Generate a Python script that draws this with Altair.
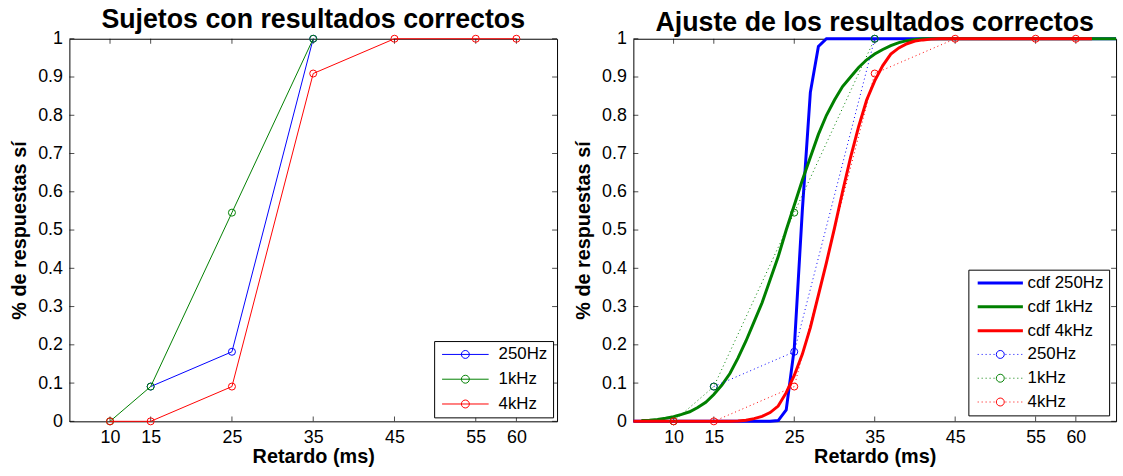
import altair as alt
import pandas as pd

# ---------------- data ----------------
retardo_ticks = [10, 15, 25, 35, 45, 55, 60]
prop_ticks = [0, 0.1, 0.2, 0.3, 0.4, 0.5, 0.6, 0.7, 0.8, 0.9, 1.0]

series_obs = ["250Hz", "1kHz", "4kHz"]
series_cdf = ["cdf 250Hz", "cdf 1kHz", "cdf 4kHz"]

x_250 = [15, 25, 35]
y_250 = [0.0909, 0.1818, 1.0]
x_1k = [10, 15, 25, 35]
y_1k = [0.0, 0.0909, 0.5455, 1.0]
x_4k = [10, 15, 25, 35, 45, 55, 60]
y_4k = [0.0, 0.0, 0.0909, 0.9091, 1.0, 1.0, 1.0]

cdf250_x = [5, 22, 23, 24, 25, 26, 27, 28, 29, 65]
cdf250_y = [0.0, 0.0, 0.002, 0.03, 0.19, 0.55, 0.86, 0.98, 1.0, 1.0]

cdf1k_x = [6, 7, 8, 9, 10, 11, 12, 13, 14, 15, 16, 17, 18, 19, 20, 21, 22, 23,
           24, 25, 26, 27, 28, 29, 30, 31, 32, 33, 34, 35, 36, 37, 38, 39, 40, 41, 65]
cdf1k_y = [0.002, 0.003, 0.005, 0.008, 0.012, 0.018, 0.025, 0.036, 0.05, 0.07,
           0.095, 0.125, 0.165, 0.21, 0.26, 0.31, 0.37, 0.43, 0.5, 0.565, 0.63,
           0.69, 0.75, 0.8, 0.84, 0.875, 0.9, 0.925, 0.945, 0.96, 0.972, 0.982,
           0.99, 0.995, 0.998, 1.0, 1.0]

cdf4k_x = [5, 17, 18, 19, 20, 21, 22, 23, 24, 25, 26, 27, 28, 29, 30, 31, 32, 33,
           34, 35, 36, 37, 38, 39, 40, 41, 42, 43, 62]
cdf4k_y = [0.0, 0.0, 0.001, 0.003, 0.007, 0.013, 0.023, 0.04, 0.075, 0.12, 0.175,
           0.245, 0.33, 0.415, 0.505, 0.6, 0.69, 0.77, 0.84, 0.89, 0.93, 0.96,
           0.976, 0.987, 0.994, 0.997, 0.999, 1.0, 1.0]

# ---------------- styling ----------------
FONT = "Liberation Sans"
BLUE, GREEN, RED = "#0000ff", "#008000", "#ff0000"
XDOM = [5, 65]
W_L, W_R, H = 492, 487, 386


def frame(field, names, xs, ys):
    rows = []
    for n, xx, yy in zip(names, xs, ys):
        for a, b in zip(xx, yy):
            rows.append({field: n, "x": a, "y": b})
    return pd.DataFrame(rows)


obs_df = frame("serie", series_obs, [x_250, x_1k, x_4k], [y_250, y_1k, y_4k])
obs_df2 = frame("curva", series_obs, [x_250, x_1k, x_4k], [y_250, y_1k, y_4k])
cdf_df = frame("curva", series_cdf, [cdf250_x, cdf1k_x, cdf4k_x], [cdf250_y, cdf1k_y, cdf4k_y])
tick_x_df = pd.DataFrame({"x": retardo_ticks})
tick_y_df = pd.DataFrame({"y": prop_ticks})


def circle(rc):
    return f"M{rc},0A{rc},{rc},0,1,1,{-rc},0A{rc},{rc},0,1,1,{rc},0"


def dotted(half, rc, step=0.8, dot=0.2):
    parts = []
    x = -half
    while x + dot <= half + 1e-9:
        if x + dot < -rc - 0.15 or x > rc + 0.15:
            parts.append(f"M{x:.2f},0H{x + dot:.2f}")
        x += step
    return "".join(parts) + circle(rc)


path_left = f"M-4.7,0H4.7{circle(0.8)}"
path_solid = "M-4.56,0H4.56"
path_dotted = dotted(4.56, 0.8)

xs = alt.Scale(domain=XDOM, nice=False, zero=False)
ys = alt.Scale(domain=[0, 1], nice=False, zero=False)

x_main = alt.Axis(values=retardo_ticks, orient="bottom", ticks=False,
                  domain=False, grid=False, labelPadding=7, title="Retardo (ms)",
                  titlePadding=1, format="d", labelOverlap=False, minExtent=0)
y_main = alt.Axis(values=prop_ticks, orient="left", ticks=False,
                  domain=False, grid=False, labelPadding=7,
                  title="% de respuestas sí", titlePadding=8, format="~g",
                  labelOverlap=False, minExtent=0)

legend_common = dict(title=None, orient="none", symbolSize=100,
                     symbolFillColor="transparent", labelFont=FONT,
                     labelFontSize=17, labelColor="black", strokeColor="black",
                     fillColor="white", cornerRadius=0, labelLimit=0)

leg_left = alt.Legend(legendX=368, legendY=305, symbolType=path_left,
                      symbolStrokeWidth=1, symbolOffset=18, labelOffset=25,
                      padding=5, rowPadding=7, **legend_common)

solid_names = "['cdf 250Hz','cdf 1kHz','cdf 4kHz']"
is_solid = f"indexof({solid_names}, datum.value) >= 0"
leg_right = alt.Legend(
    legendX=338, legendY=233,
    symbolType=alt.ExprRef(f"{is_solid} ? '{path_solid}' : '{path_dotted}'"),
    symbolStrokeWidth=alt.ExprRef(f"{is_solid} ? 3 : 1"),
    symbolOffset=18.7, labelOffset=19, padding=5, rowPadding=6,
    **legend_common)

color_left = alt.Color("serie:N", scale=alt.Scale(domain=series_obs, range=[BLUE, GREEN, RED]),
                       legend=leg_left)
color_right = alt.Color("curva:N",
                        scale=alt.Scale(domain=series_cdf + series_obs,
                                        range=[BLUE, GREEN, RED, BLUE, GREEN, RED]),
                        legend=leg_right)


def inner_ticks(width):
    tk = dict(size=5, thickness=1, color="black")
    bx = alt.Chart(tick_x_df)
    by = alt.Chart(tick_y_df)
    xe = alt.X("x:Q", scale=xs, axis=None)
    ye = alt.Y("y:Q", scale=ys, axis=None)
    return [
        bx.mark_tick(**tk).encode(x=xe, y=alt.value(H - 2.5)),
        bx.mark_tick(**tk).encode(x=xe, y=alt.value(2.5)),
        by.mark_tick(**tk).encode(y=ye, x=alt.value(2.5)),
        by.mark_tick(**tk).encode(y=ye, x=alt.value(width - 2.5)),
    ]


# ---------------- left panel ----------------
left_layers = inner_ticks(W_L)
for i, s in enumerate(series_obs):
    base = alt.Chart(obs_df).transform_filter(alt.datum.serie == s)
    ax_x = x_main if i == 0 else None
    ax_y = y_main if i == 0 else None
    left_layers.append(base.mark_line(strokeWidth=1).encode(
        x=alt.X("x:Q", scale=xs, axis=ax_x),
        y=alt.Y("y:Q", scale=ys, axis=ax_y),
        color=color_left))
    left_layers.append(base.mark_point(shape="circle", filled=False, size=50, strokeWidth=1,
                                       opacity=1).encode(
        x=alt.X("x:Q", scale=xs, axis=None),
        y=alt.Y("y:Q", scale=ys, axis=None),
        color=color_left))

left = alt.layer(*left_layers).resolve_axis(x="independent", y="independent").properties(
    width=W_L, height=H,
    title=alt.TitleParams("Sujetos con resultados correctos", baseline="alphabetic", offset=-25))

# ---------------- right panel ----------------
right_layers = inner_ticks(W_R)
for i, s in enumerate(series_cdf):
    base = alt.Chart(cdf_df).transform_filter(alt.datum.curva == s)
    ax_x = x_main if i == 0 else None
    ax_y = y_main if i == 0 else None
    right_layers.append(base.mark_line(strokeWidth=3).encode(
        x=alt.X("x:Q", scale=xs, axis=ax_x),
        y=alt.Y("y:Q", scale=ys, axis=ax_y),
        color=color_right))
for s in series_obs:
    base = alt.Chart(obs_df2).transform_filter(alt.datum.curva == s)
    right_layers.append(base.mark_line(strokeWidth=1, strokeDash=[1, 3]).encode(
        x=alt.X("x:Q", scale=xs, axis=None),
        y=alt.Y("y:Q", scale=ys, axis=None),
        color=color_right))
    right_layers.append(base.mark_point(shape="circle", filled=False, size=50, strokeWidth=1,
                                        opacity=1).encode(
        x=alt.X("x:Q", scale=xs, axis=None),
        y=alt.Y("y:Q", scale=ys, axis=None),
        color=color_right))

right = alt.layer(*right_layers).resolve_axis(x="independent", y="independent").properties(
    width=W_R, height=H,
    title=alt.TitleParams("Ajuste de los resultados correctos", baseline="alphabetic", offset=-28))

chart = alt.hconcat(left, right, spacing=15).resolve_scale(color="independent").properties(
    padding={"left": 9, "top": 3, "right": 0, "bottom": 0}
).configure_view(stroke="black", strokeWidth=1).configure_axis(
    labelFont=FONT, labelFontSize=18, labelColor="black",
    titleFont=FONT, titleFontSize=20, titleFontWeight="bold", titleColor="black"
).configure_title(
    font=FONT, fontSize=27, fontWeight="bold", color="black", anchor="middle", frame="group"
)

chart.save("out.html", embed_options={"renderer": "svg", "actions": False})
